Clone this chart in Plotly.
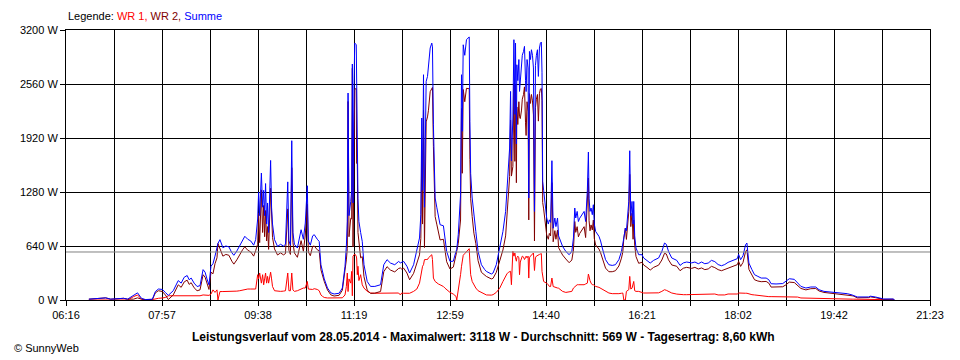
import numpy as np
import plotly.graph_objects as go

# time in minutes after midnight
zeit_min = [
    400.0, 412.5, 417.7, 422.9, 436.5, 440.6, 446.9, 451.1, 455.2, 459.4,
    466.7, 469.8, 473.0, 477.1, 480.3, 483.4, 488.6, 493.8, 496.9, 500.1,
    503.2, 505.3, 507.4, 510.5, 513.6, 516.7, 519.9, 522.0, 524.0, 526.1,
    528.2, 530.3, 532.4, 534.5, 535.5, 537.6, 540.7, 543.8, 547.0, 550.1,
    552.2, 555.3, 558.4, 561.6, 563.7, 566.8, 569.9, 573.0, 575.1, 577.2,
    578.2, 579.3, 581.1, 582.4, 583.5, 584.5, 585.5, 586.6, 587.6, 588.7,
    590.8, 591.8, 592.8, 594.9, 598.1, 601.2, 604.3, 606.4, 608.8, 610.0,
    611.6, 613.0, 614.2, 615.8, 618.9, 622.8, 625.2, 627.2, 629.3, 630.4,
    632.5, 634.9, 636.6, 639.8, 641.8, 643.6, 645.3, 647.1, 650.5, 654.0,
    657.5, 662.7, 666.1, 668.9, 670.3, 671.3, 672.1, 673.1, 674.9, 675.9,
    676.6, 677.3, 678.3, 679.1, 680.7, 681.1, 681.8, 682.5, 683.5, 685.3,
    687.0, 688.8, 692.2, 695.7, 700.2, 706.2, 709.6, 713.0, 716.6, 721.1,
    725.2, 727.0, 728.4, 730.5, 733.9, 736.7, 740.9, 744.3, 747.1, 748.5,
    749.5, 750.3, 751.3, 752.3, 754.1, 755.5, 756.5, 758.3, 760.0, 760.7,
    761.7, 763.5, 765.2, 766.9, 768.7, 772.2, 773.9, 775.6, 779.1, 782.6,
    785.4, 786.2, 787.8, 790.2, 791.2, 792.0, 793.0, 794.6, 796.4, 798.2,
    799.3, 800.0, 800.8, 802.4, 804.2, 806.2, 808.6, 812.1, 815.6, 817.3,
    822.5, 824.3, 827.7, 831.3, 834.7, 837.5, 838.9, 840.6, 841.7, 842.7,
    843.6, 845.1, 846.2, 847.2, 847.9, 848.8, 849.3, 850.3, 851.4, 852.1,
    852.9, 854.2, 855.0, 856.3, 857.3, 858.4, 859.0, 860.0, 861.1, 861.8,
    862.5, 863.6, 864.6, 865.7, 866.7, 867.8, 868.8, 869.8, 870.9, 871.9,
    873.0, 874.0, 875.0, 875.7, 876.4, 877.4, 878.8, 880.6, 882.3, 883.4,
    884.7, 886.1, 887.4, 889.2, 890.3, 892.0, 893.1, 894.9, 897.3, 900.7,
    904.2, 907.0, 908.7, 910.1, 911.1, 912.6, 913.9, 915.3, 917.4, 919.9,
    921.5, 923.3, 924.4, 925.1, 926.1, 927.2, 928.5, 929.6, 930.6, 932.0,
    935.5, 937.2, 939.0, 942.4, 945.9, 949.4, 952.8, 956.4, 959.1, 960.5,
    961.6, 963.2, 964.3, 966.8, 967.8, 968.9, 970.2, 971.3, 972.0, 973.0,
    974.4, 977.2, 980.7, 982.4, 985.9, 989.3, 992.9, 998.1, 1001.5, 1004.3,
    1006.2, 1008.5, 1011.9, 1017.1, 1020.6, 1024.1, 1027.6, 1032.8, 1036.2, 1039.8,
    1043.2, 1046.6, 1050.2, 1053.6, 1057.1, 1060.6, 1064.1, 1067.5, 1071.0, 1076.2,
    1080.7, 1082.1, 1084.2, 1086.7, 1088.3, 1089.4, 1090.8, 1091.9, 1092.9, 1096.1,
    1098.8, 1102.3, 1105.8, 1111.0, 1113.8, 1116.2, 1121.4, 1128.4, 1131.8, 1135.3,
    1140.5, 1144.0, 1147.5, 1152.7, 1157.9, 1163.1, 1166.5, 1171.7, 1177.0, 1182.2,
    1189.2, 1196.1, 1201.3, 1203.0, 1206.6, 1218.7, 1220.4, 1225.6, 1230.9, 1234.3,
    1244.7, 1245.5,
]

# Summe (W)
summe_w = [
    10, 15, 25, 10, 20, 10, 50, 85, 20, 5,
    10, 100, 130, 125, 90, 55, 110, 230, 200, 270,
    290, 240, 260, 200, 160, 170, 360, 330, 250, 180,
    400, 430, 520, 620, 670, 715, 620, 640, 630, 560,
    530, 580, 650, 720, 755, 720, 700, 650, 715, 960,
    1280, 1000, 1505, 1100, 1300, 1000, 1380, 900, 1150, 800,
    1654, 1100, 900, 715, 635, 660, 640, 660, 1400, 700,
    650, 1888, 800, 660, 616, 833, 720, 912, 1354, 700,
    650, 760, 774, 720, 694, 418, 320, 250, 142, 85,
    71, 80, 142, 400, 635, 931, 2453, 1000, 1168, 1300,
    2797, 1150, 2512, 3045, 3025, 2117, 1920, 1200, 931, 800,
    694, 418, 220, 161, 161, 181, 418, 478, 438, 418,
    457, 440, 450, 457, 400, 320, 418, 576, 735, 1011,
    2157, 1300, 2670, 1100, 2591, 2650, 2749, 2986, 3045, 3000,
    2077, 1209, 1100, 972, 892, 880, 735, 576, 457, 460,
    576, 600, 774, 1248, 2670, 2000, 3025, 2900, 3085, 3105,
    3118, 2117, 1500, 1209, 972, 813, 576, 418, 360, 339,
    308, 320, 418, 616, 813, 1050, 1287, 1524, 1801, 2472,
    1650, 2157, 3085, 2200, 3045, 1850, 2788, 2600, 2850, 2472,
    2600, 2749, 2900, 2946, 3006, 2600, 2470, 2850, 2750, 1209,
    2946, 2850, 2966, 2900, 2750, 1050, 2780, 2900, 2966, 2650,
    2986, 3045, 3057, 2700, 1406, 1300, 1129, 972, 900, 950,
    920, 1651, 850, 972, 870, 972, 760, 694, 635, 576,
    537, 576, 735, 1090, 972, 1050, 930, 970, 1011, 1050,
    930, 1300, 1754, 1200, 1050, 1090, 1011, 1129, 900, 813,
    754, 700, 616, 478, 418, 410, 418, 478, 576, 650,
    735, 853, 820, 1168, 1769, 1000, 1168, 900, 1168, 760,
    616, 537, 537, 498, 470, 438, 470, 498, 576, 675,
    660, 576, 498, 470, 410, 440, 450, 440, 450, 430,
    450, 430, 438, 470, 455, 420, 406, 420, 446, 470,
    490, 540, 478, 525, 596, 655, 675, 560, 438, 359,
    300, 280, 260, 260, 240, 193, 190, 195, 220, 252,
    245, 201, 161, 142, 154, 154, 122, 102, 95, 95,
    80, 75, 60, 55, 36, 36, 45, 36, 24, 12,
    12, 0,
]

# WR 1 (W)
wr1_w = [
    0, 0, 0, 0, 0, 0, 40, 60, 10, 0,
    5, 15, 20, 24, 30, 50, 50, 50, 50, 55,
    55, 55, 55, 55, 50, 50, 60, 60, 60, 55,
    70, 120, 90, 120, 0, 100, 100, 100, 100, 100,
    105, 105, 110, 120, 125, 130, 130, 130, 130, 300,
    250, 320, 200, 300, 180, 250, 320, 200, 280, 200,
    330, 250, 160, 110, 102, 102, 105, 110, 320, 110,
    110, 320, 120, 102, 110, 130, 142, 142, 220, 130,
    125, 125, 134, 125, 110, 60, 43, 30, 24, 24,
    24, 24, 26, 60, 160, 320, 100, 250, 200, 339,
    50, 520, 540, 545, 520, 498, 300, 400, 230, 300,
    180, 142, 102, 83, 80, 80, 83, 83, 83, 85,
    83, 60, 83, 80, 80, 80, 102, 130, 200, 280,
    380, 400, 418, 478, 480, 480, 500, 517, 537, 480,
    260, 220, 201, 190, 180, 160, 140, 122, 90, 70,
    43, 0, 102, 300, 400, 498, 530, 550, 576, 600,
    608, 450, 300, 220, 180, 142, 110, 90, 63, 60,
    58, 63, 90, 140, 220, 290, 310, 330, 339, 340,
    181, 576, 520, 557, 500, 460, 500, 520, 500, 300,
    450, 498, 520, 510, 480, 500, 520, 500, 520, 260,
    500, 520, 530, 540, 557, 350, 500, 520, 530, 530,
    540, 545, 550, 339, 250, 220, 210, 200, 180, 161,
    160, 260, 160, 150, 150, 142, 140, 120, 102, 90,
    95, 102, 142, 160, 170, 181, 181, 181, 181, 181,
    190, 200, 308, 260, 230, 200, 181, 181, 170, 161,
    150, 140, 122, 100, 83, 75, 71, 75, 80, 83,
    0, 0, 102, 122, 280, 130, 140, 180, 220, 110,
    102, 102, 90, 83, 83, 83, 83, 85, 102, 122,
    115, 100, 83, 70, 63, 63, 63, 65, 63, 63,
    70, 70, 70, 71, 71, 60, 59, 60, 71, 71,
    71, 83, 80, 80, 80, 80, 80, 75, 75, 63,
    60, 55, 43, 40, 40, 40, 38, 38, 40, 40,
    38, 35, 24, 22, 20, 18, 15, 12, 12, 12,
    12, 12, 10, 10, 10, 8, 8, 8, 5, 5,
    3, 0,
]

# WR 2 is the rest of the sum
wr2_w = [s - r for s, r in zip(summe_w, wr1_w)]

durchschnitt_w = 569
y_ticks = [0, 640, 1280, 1920, 2560, 3200]
y_labels = ["0 W", "640 W", "1280 W", "1920 W", "2560 W", "3200 W"]
x_start, x_end = 376, 1283  # 06:16 .. 21:23
x_labels = ["06:16", "07:57", "09:38", "11:19", "12:59", "14:40",
            "16:21", "18:02", "19:42", "21:23"]

x_tickvals = list(np.linspace(x_start, x_end, 2 * len(x_labels) - 1))
x_ticktext = []
for i in range(len(x_tickvals)):
    x_ticktext.append(x_labels[i // 2] if i % 2 == 0 else "")

FONT = "Liberation Sans, Arial, sans-serif"

fig = go.Figure()
fig.add_trace(go.Scatter(x=zeit_min, y=wr1_w, mode="lines", name="WR 1",
                         line=dict(color="#ff0000", width=1)))
fig.add_trace(go.Scatter(x=zeit_min, y=wr2_w, mode="lines", name="WR 2",
                         line=dict(color="#800000", width=1)))
fig.add_trace(go.Scatter(x=zeit_min, y=summe_w, mode="lines", name="Summe",
                         line=dict(color="#0000ff", width=1)))

fig.add_shape(type="line", xref="x domain", yref="y", x0=0, x1=1,
              y0=durchschnitt_w, y1=durchschnitt_w,
              line=dict(color="#808080", width=1), layer="above")

axis_common = dict(showgrid=True, gridcolor="black", gridwidth=1,
                   showline=True, linecolor="black", linewidth=1, mirror=True,
                   ticks="outside", ticklen=5, tickcolor="black", tickwidth=1,
                   zeroline=False, tickfont=dict(family=FONT, size=11, color="black"))

# page body has an 8px default margin, so margins compensate for it
fig.update_layout(
    width=960, height=360,
    margin=dict(l=52, r=38, t=22, b=68),
    paper_bgcolor="white", plot_bgcolor="white",
    showlegend=False,
    xaxis=dict(range=[x_start, x_end], tickmode="array", tickvals=x_tickvals,
               ticktext=x_ticktext, **axis_common),
    yaxis=dict(range=[0, 3200], tickmode="array", tickvals=y_ticks,
               ticktext=y_labels, **axis_common),
)

fig.add_annotation(
    xref="paper", yref="paper", x=0, y=1.052, xanchor="left", yanchor="middle",
    showarrow=False, font=dict(family=FONT, size=11, color="black"),
    text=('Legende: <span style="color:#ff0000">WR 1,</span> '
          '<span style="color:#800000">WR 2,</span> '
          '<span style="color:#0000ff">Summe</span>'))

fig.add_annotation(
    xref="paper", yref="paper", x=0.483, y=-0.136, xanchor="center", yanchor="middle",
    showarrow=False, font=dict(family=FONT, size=12, color="black"),
    text=("<b>Leistungsverlauf vom 28.05.2014 - Maximalwert: 3118 W - "
          "Durchschnitt: 569 W - Tagesertrag: 8,60 kWh</b>"))

fig.add_annotation(
    xref="paper", yref="paper", x=-0.063, y=-0.178, xanchor="left", yanchor="middle",
    showarrow=False, font=dict(family=FONT, size=11, color="black"),
    text="© SunnyWeb")

fig.write_html("out.html")
